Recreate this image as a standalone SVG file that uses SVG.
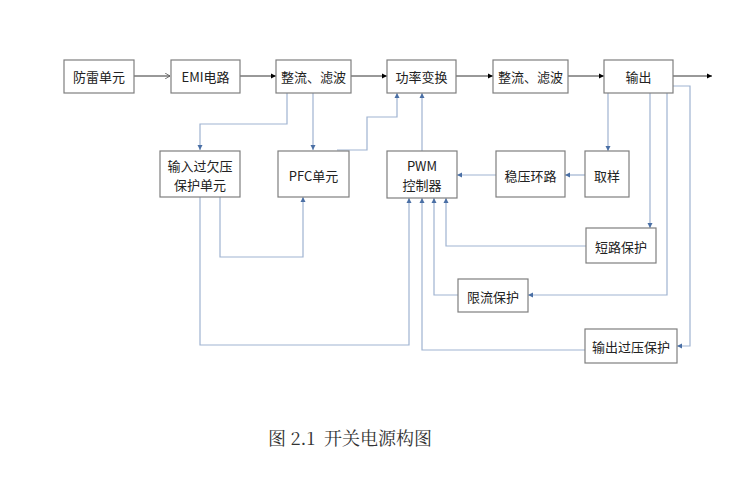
<svg xmlns="http://www.w3.org/2000/svg" width="755" height="486" viewBox="0 0 755 486">
<defs>
<marker id="ab" markerWidth="6" markerHeight="6" refX="5" refY="3" orient="auto" markerUnits="userSpaceOnUse"><path d="M0,0.5 L5,3 L0,5.5z" fill="#000"/></marker>
<marker id="ao" markerWidth="6" markerHeight="6" refX="5" refY="3" orient="auto" markerUnits="userSpaceOnUse"><path d="M0,0 L5,3 L0,6" fill="none" stroke="#555" stroke-width="0.8"/></marker>
<marker id="bl" markerWidth="6" markerHeight="6" refX="5" refY="3" orient="auto" markerUnits="userSpaceOnUse"><path d="M0,0.5 L5,3 L0,5.5z" fill="#4a6fa5"/></marker>
</defs>
<style>
rect{fill:#fff;stroke:#7f7f7f;stroke-width:1.2}
text{font-family:"Noto Sans CJK SC","Noto Sans",sans-serif;font-size:13px;fill:#222;text-anchor:middle;dominant-baseline:central}
.k{fill:none;stroke:#333;stroke-width:1}
.b{fill:none;stroke:#9fb3d1;stroke-width:1.2;marker-end:url(#bl)}
</style>
<g id="connectors">
<path class="k" d="M134,76H170" marker-end="url(#ao)"/>
<path class="k" d="M240,76H276" marker-end="url(#ab)"/>
<path class="k" d="M351,76H387" marker-end="url(#ab)"/>
<path class="k" d="M456,76H493" marker-end="url(#ab)"/>
<path class="k" d="M568,76H604" marker-end="url(#ab)"/>
<path class="k" d="M673,76H712" marker-end="url(#ab)"/>
<path class="b" d="M287,93V124H200V150"/>
<path class="b" d="M313,93V150"/>
<path class="b" d="M337,150H367V117H397V93"/>
<path class="b" d="M422,151V93"/>
<path class="b" d="M220,197V257H303V197"/>
<path class="b" d="M200,197V345H409V198"/>
<path class="b" d="M496,175H457"/>
<path class="b" d="M585,175H565"/>
<path class="b" d="M608,93V151"/>
<path class="b" d="M650,93V228"/>
<path class="b" d="M586,246H446V198"/>
<path class="b" d="M667,93V295H528"/>
<path class="b" d="M458,295H434V198"/>
<path class="b" d="M673,86H690V346H677"/>
<path class="b" d="M585,350H422V198"/>
</g>
<g id="n1"><rect x="64" y="60" width="70" height="33"/><text x="99" y="76.5">防雷单元</text></g>
<g id="n2"><rect x="171" y="60" width="69" height="33"/><text x="205.5" y="76.5">EMI电路</text></g>
<g id="n3"><rect x="276" y="60" width="75" height="33"/><text x="313.5" y="76.5">整流、滤波</text></g>
<g id="n4"><rect x="387" y="60" width="69" height="33"/><text x="421.5" y="76.5">功率变换</text></g>
<g id="n5"><rect x="493" y="60" width="75" height="33"/><text x="530.5" y="76.5">整流、滤波</text></g>
<g id="n6"><rect x="604" y="60" width="69" height="33"/><text x="638.5" y="76.5">输出</text></g>
<g id="n7"><rect x="160" y="151" width="80" height="46"/><text x="200" y="165">输入过欠压</text><text x="200" y="184">保护单元</text></g>
<g id="n8"><rect x="278" y="151" width="71" height="46"/><text x="313.5" y="175">PFC单元</text></g>
<g id="n9"><rect x="387" y="151" width="70" height="47"/><text x="422" y="165">PWM</text><text x="422" y="184">控制器</text></g>
<g id="n10"><rect x="496" y="151" width="69" height="46"/><text x="530.5" y="175">稳压环路</text></g>
<g id="n11"><rect x="585" y="151" width="44" height="46"/><text x="607" y="175">取样</text></g>
<g id="n12"><rect x="586" y="228" width="70" height="35"/><text x="621" y="246">短路保护</text></g>
<g id="n13"><rect x="458" y="279" width="70" height="33"/><text x="493" y="296">限流保护</text></g>
<g id="n14"><rect x="585" y="329" width="92" height="34"/><text x="631" y="346">输出过压保护</text></g>
<text x="350" y="437" xml:space="preserve" style="font-family:'Noto Serif CJK SC','Liberation Serif','Noto Sans CJK SC',serif;font-size:18px;fill:#333">图 2.1  开关电源构图</text>
</svg>
